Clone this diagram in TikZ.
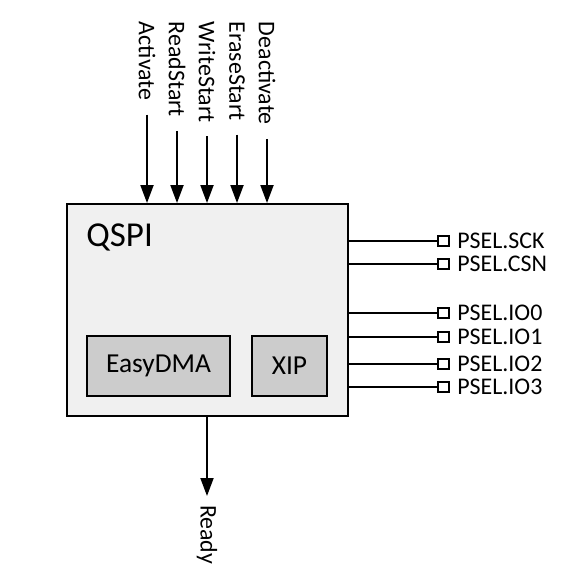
\documentclass[tikz,border=0pt]{standalone}
\usepackage{fontspec}
\setmainfont{Carlito}
\usetikzlibrary{arrows.meta,positioning}

\begin{document}
\begin{tikzpicture}[
  periph/.style={draw=black, fill=black!6, line width=1.1pt, minimum width=5.62cm,
    minimum height=4.24cm},
  subblock/.style={draw=black, fill=black!20, line width=1.1pt, minimum height=1.2cm,
    font=\fontsize{15.6}{18}\selectfont},
  sig/.style={rotate=-90, anchor=west, inner sep=0pt, outer sep=0.28cm,
    font=\fontsize{13.6}{16}\selectfont},
  pin/.style={draw=black, fill=white, line width=1pt, minimum width=0.21cm,
    minimum height=0.19cm, inner sep=0pt},
  pinlabel/.style={anchor=west, inner sep=0pt, font=\fontsize{13.6}{16}\selectfont},
  arrow/.style={-{Triangle[length=0.36cm, width=0.26cm]}, line width=1.1pt},
  wire/.style={line width=1.1pt}
]
\useasboundingbox (0,0) rectangle (11.7,-11.38);
\node[periph] (qspi) at (4.15,-6.2) {};
\node[anchor=base west, inner sep=0pt, font=\fontsize{19.9}{24}\selectfont]
  (title) at (1.72,-4.94) {QSPI};
\node[subblock, minimum width=2.86cm] (dma) at (3.17,-7.32) {EasyDMA};
\node[subblock, minimum width=1.5cm] (xip) at (5.79,-7.32) {XIP};
% tasks
\node[sig] (activate) at (2.94,-0.16) {Activate};
\node[sig] (readstart) at (3.54,-0.16) {ReadStart};
\node[sig] (writestart) at (4.14,-0.16) {WriteStart};
\node[sig] (erasestart) at (4.74,-0.16) {EraseStart};
\node[sig] (deactivate) at (5.34,-0.16) {Deactivate};
\draw[arrow] (activate) -- (activate |- qspi.north);
\draw[arrow] (readstart) -- (readstart |- qspi.north);
\draw[arrow] (writestart) -- (writestart |- qspi.north);
\draw[arrow] (erasestart) -- (erasestart |- qspi.north);
\draw[arrow] (deactivate) -- (deactivate |- qspi.north);
% event
\node[sig, outer sep=0.18cm] (ready) at (4.14,-9.92) {Ready};
\draw[arrow] (qspi.south -| ready) -- (ready);
% pins
\node[pin] (sck) at (8.87,-4.82) {};
\node[pin] (csn) at (8.87,-5.28) {};
\node[pin] (io0) at (8.87,-6.26) {};
\node[pin] (io1) at (8.87,-6.74) {};
\node[pin] (io2) at (8.87,-7.28) {};
\node[pin] (io3) at (8.87,-7.74) {};
\node[pinlabel] (sckl) at (9.14,-4.82) {PSEL.SCK};
\node[pinlabel] (csnl) at (9.14,-5.28) {PSEL.CSN};
\node[pinlabel] (io0l) at (9.14,-6.26) {PSEL.IO0};
\node[pinlabel] (io1l) at (9.14,-6.74) {PSEL.IO1};
\node[pinlabel] (io2l) at (9.14,-7.28) {PSEL.IO2};
\node[pinlabel] (io3l) at (9.14,-7.74) {PSEL.IO3};
\draw[wire] (qspi.east |- sck) -- (sck);
\draw[wire] (qspi.east |- csn) -- (csn);
\draw[wire] (qspi.east |- io0) -- (io0);
\draw[wire] (qspi.east |- io1) -- (io1);
\draw[wire] (qspi.east |- io2) -- (io2);
\draw[wire] (qspi.east |- io3) -- (io3);
\end{tikzpicture}
\end{document}
